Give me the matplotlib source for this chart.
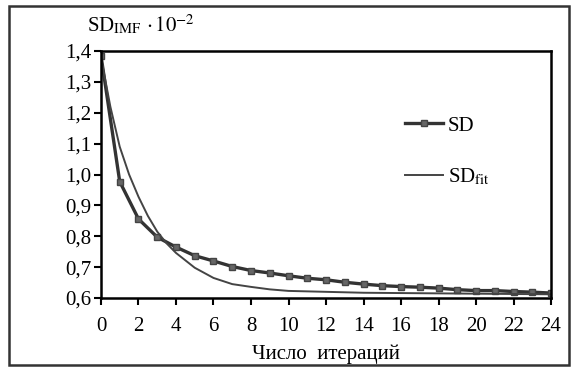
import numpy as np
from matplotlib import pyplot as plt
from matplotlib.patches import Rectangle

plt.rcParams['font.family'] = ['Liberation Serif', 'DejaVu Serif']
plt.rcParams['mathtext.fontset'] = 'stix'

# SD per iteration
iters = list(range(25))
sd = [1.385, 0.977, 0.856, 0.797, 0.765, 0.737, 0.720, 0.702, 0.689, 0.681,
      0.672, 0.664, 0.659, 0.651, 0.645, 0.640, 0.637, 0.635, 0.632, 0.627,
      0.624, 0.624, 0.621, 0.619, 0.616]

# fitted curve
fit_x = [0, 0.5, 1, 1.5, 2, 2.5, 3, 3.5, 4, 5, 6, 7, 8, 9, 10, 12, 14, 16,
         18, 20, 22, 24]
fit_y = [1.38, 1.22, 1.09, 1.00, 0.928, 0.866, 0.815, 0.777, 0.746, 0.698,
         0.665, 0.645, 0.636, 0.628, 0.623, 0.620, 0.617, 0.616, 0.615,
         0.614, 0.613, 0.612]

y_ticks = [0.6, 0.7, 0.8, 0.9, 1.0, 1.1, 1.2, 1.3, 1.4]
y_labels = ['0,6', '0,7', '0,8', '0,9', '1,0', '1,1', '1,2', '1,3', '1,4']
x_ticks = list(range(0, 25, 2))

fig = plt.figure(figsize=(5.77, 3.67), dpi=100)
ax = fig.add_axes([0.175, 0.188, 0.78, 0.673])

ax.plot(iters, sd, color='#333333', lw=2.4, marker='s', ms=4.5,
        mfc='#666666', mec='#444444', label='SD')
ax.plot(fit_x, fit_y, color='#444444', lw=1.4, label=r'SD$_{\mathrm{fit}}$')

ax.set_xlim(0, 24)
ax.set_ylim(0.6, 1.4)
ax.set_xticks(x_ticks)
ax.set_yticks(y_ticks)
ax.set_yticklabels(y_labels)
ax.tick_params(direction='out', length=5, width=1.5, labelsize=15)
ax.tick_params(axis='x', pad=9)
ax.tick_params(axis='y', pad=2)
for s in ax.spines.values():
    s.set_linewidth(1.8)

ax.set_xlabel('Число  итераций', fontsize=15, labelpad=6)
fig.text(0.15, 0.913, r'SD$_{\mathrm{IMF}}$ $\cdot\,10^{-2}$', fontsize=15)

ax.legend(loc='upper left', bbox_to_anchor=(0.634, 0.812), frameon=False,
          fontsize=15, handlelength=1.8, labelspacing=1.5, handletextpad=0.25)

fig.patches.append(Rectangle((0.016, 0.005), 0.970, 0.979, transform=fig.transFigure,
                             fill=False, lw=1.8, ec='#333333'))

fig.savefig('out.png', dpi=100)
